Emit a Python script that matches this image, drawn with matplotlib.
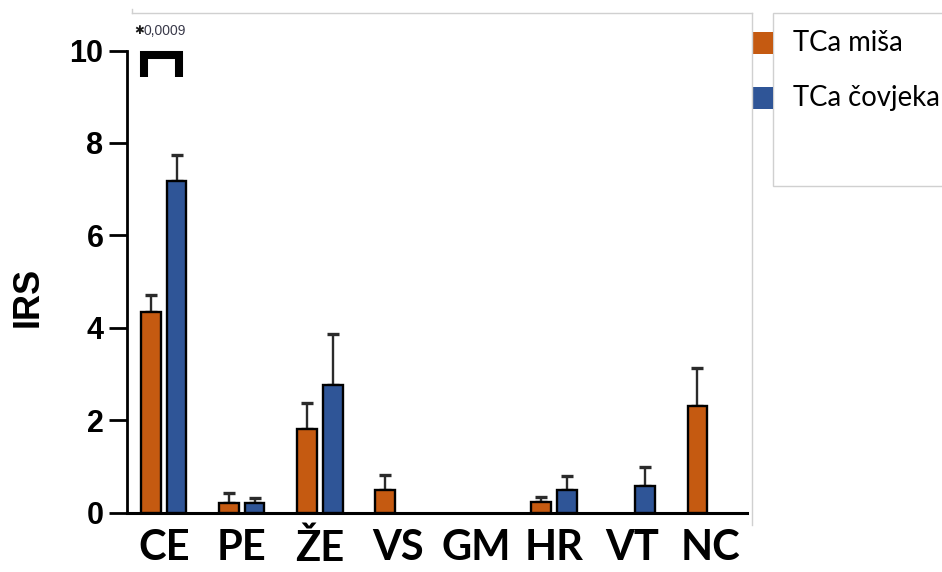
import numpy as np
import matplotlib.pyplot as plt
from matplotlib.patches import Rectangle
from matplotlib.lines import Line2D

# podaci
kategorije = ['CE', 'PE', 'ŽE', 'VS', 'GM', 'HR', 'VT', 'NC']
serije = ['TCa miša', 'TCa čovjeka']
misa = [4.34, 0.21, 1.80, 0.48, np.nan, 0.23, np.nan, 2.31]
misa_sem = [0.37, 0.21, 0.56, 0.33, np.nan, 0.11, np.nan, 0.82]
covjek = [7.18, 0.21, 2.76, np.nan, np.nan, 0.49, 0.57, np.nan]
covjek_sem = [0.56, 0.10, 1.10, np.nan, np.nan, 0.30, 0.41, np.nan]
p_tekst = '0,0009'
boje = ['#C55A11', '#2F5597']

W, H = 942, 572
fig = plt.figure(figsize=(W / 100, H / 100), dpi=100)
ax = fig.add_axes([127 / W, (H - 512.5) / H, 620 / W, 462 / H])

x = np.arange(len(kategorije))
pomak = 0.165
for vals, sem, dx, boja in [(misa, misa_sem, -pomak, boje[0]), (covjek, covjek_sem, pomak, boje[1])]:
    v = np.array(vals)
    s = np.array(sem)
    m = ~np.isnan(v)
    ax.errorbar(x[m] + dx, v[m], yerr=[np.zeros(m.sum()), s[m]], fmt='none',
                ecolor='#2b2b2b', elinewidth=1.7, capsize=4, capthick=2.4, zorder=2)
    ax.bar(x[m] + dx, v[m], width=0.25, color=boja, edgecolor='black', linewidth=1.7, zorder=3)

ax.set_xlim(-0.47, 7.47)
ax.set_ylim(0, 10)
ax.set_yticks([0, 2, 4, 6, 8, 10])
ax.set_xticks(x)
ax.set_xticklabels(kategorije, fontfamily='Lato', fontweight='bold', fontsize=30)
ax.tick_params(axis='x', length=0, pad=12)
ax.tick_params(axis='y', length=13, width=2, pad=4)
for lab in ax.get_yticklabels():
    lab.set_fontfamily('Liberation Sans')
    lab.set_fontweight('bold')
    lab.set_fontsize(22)
for s in ['top', 'right']:
    ax.spines[s].set_visible(False)
ax.spines['left'].set_linewidth(2)
ax.spines['bottom'].set_linewidth(2.2)

fig.text(28 / W, 1 - 297 / H, 'IRS', rotation=90, ha='center', va='center',
         fontfamily='Liberation Sans', fontweight='bold', fontsize=26)

# oznaka znacajnosti
ax.plot([-0.25, -0.25, 0.2, 0.2], [9.43, 9.91, 9.91, 9.43], color='black', lw=5.8,
        solid_joinstyle='miter', solid_capstyle='butt', clip_on=False, zorder=4)
fig.text(134 / W, 1 - 31 / H, '✱', fontsize=8.5, color='#1a1a1a',
         fontfamily='DejaVu Sans', va='center')
fig.text(144 / W, 1 - 35 / H, p_tekst, fontsize=10, color='#3a3a4a',
         fontfamily='Liberation Sans', va='baseline')

# okvir slike
siva = '#D0D0D0'
fig.add_artist(Line2D([132 / W, 752 / W], [1 - 13 / H, 1 - 13 / H], color=siva, lw=1))
fig.add_artist(Line2D([132 / W, 132 / W], [1 - 9 / H, 1 - 13 / H], color=siva, lw=1))
fig.add_artist(Line2D([752 / W, 752 / W], [1 - 13 / H, 1 - 525 / H], color=siva, lw=1))

# legenda
fig.add_artist(Rectangle((773 / W, 1 - 186 / H), 200 / W, 173 / H, transform=fig.transFigure,
                         facecolor='white', edgecolor=siva, lw=1))
for i, (naziv, boja) in enumerate(zip(serije, boje)):
    yc = 43 + i * 55
    fig.add_artist(Rectangle((752 / W, 1 - (yc + 11) / H), 21 / W, 22 / H,
                             transform=fig.transFigure, facecolor=boja, edgecolor='none'))
    fig.text(793 / W, 1 - yc / H, naziv, fontfamily='Lato', fontsize=19.8, va='center', ha='left')

fig.savefig('out.png', dpi=100)
